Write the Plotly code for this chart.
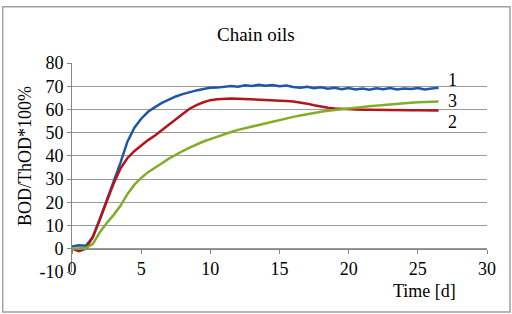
import plotly.graph_objects as go

# Time axis (days)
time_d = [0, 0.5, 1, 1.5, 2, 2.5, 3, 3.5, 4, 4.5, 5, 5.5, 6, 6.5, 7, 7.5, 8, 8.5, 9, 9.5,
          10, 10.5, 11, 11.5, 12, 12.5, 13, 13.5, 14, 14.5, 15, 15.5, 16, 16.5, 17, 17.5,
          18, 18.5, 19, 19.5, 20, 20.5, 21, 21.5, 22, 22.5, 23, 23.5, 24, 24.5, 25, 25.5,
          26, 26.5]

series1 = [1, 1.5, 1.3, 5, 12.5, 20.5, 28.5, 37, 46, 52, 56, 59, 61, 62.8, 64.2, 65.6, 66.6,
           67.5, 68.2, 68.8, 69.3, 69.4, 69.8, 70.1, 69.8, 70.4, 70.1, 70.6, 70.2, 70.5, 70.0,
           70.3, 69.7, 69.4, 69.8, 69.1, 69.5, 68.9, 69.3, 68.7, 69.2, 68.6, 69.0, 68.5, 69.1,
           68.7, 69.2, 68.6, 69.0, 68.8, 69.2, 68.6, 69.0, 69.3]

series2 = [0, -1, 0, 5, 12.5, 20, 28, 34.5, 39, 42, 44.5, 46.8, 48.8, 51.2, 53.3, 55.6, 58,
           60.3, 61.9, 63.1, 64.0, 64.4, 64.6, 64.7, 64.6, 64.5, 64.4, 64.2, 64.1, 63.9, 63.8,
           63.6, 63.4, 63.1, 62.5, 61.8, 61.2, 60.7, 60.4, 60.2, 60.1, 60.0, 59.9, 59.9, 59.8,
           59.8, 59.7, 59.7, 59.6, 59.6, 59.6, 59.5, 59.5, 59.5]

series3 = [0, 0, 0.3, 2, 7, 11, 14.5, 18.5, 23.5, 27.5, 30.5, 33, 34.8, 36.8, 38.8, 40.6, 42.1,
           43.6, 45, 46.2, 47.2, 48.3, 49.3, 50.3, 51.2, 51.9, 52.6, 53.5, 54.3, 55, 55.5, 56.2,
           56.8, 57.4, 58, 58.5, 59, 59.4, 59.8, 60.2, 60.5, 60.8, 61.1, 61.4, 61.7, 62, 62.3,
           62.5, 62.7, 62.9, 63.1, 63.2, 63.3, 63.4]

series_labels = ["1", "2", "3"]
label_y = [72.7, 54.5, 63.6]
colors = ["#1f57a4", "#b4151c", "#82ad2a"]

x_ticks = [0, 5, 10, 15, 20, 25, 30]
y_ticks = [-10, 0, 10, 20, 30, 40, 50, 60, 70, 80]
y_tick_text = ["-10", "0", "10", "20", "30", "40", "50", "60", "70", "80"]
y_grid = [0, 10, 20, 30, 40, 50, 60, 70, 80]

title_text = "Chain oils"
y_title = "BOD/ThOD*100%"
x_title = "Time [d]"

FONT = "Liberation Serif"

fig = go.Figure()
for ys, c in zip([series1, series2, series3], colors):
    fig.add_trace(go.Scatter(x=time_d, y=ys, mode="lines",
                             line=dict(color=c, width=2.5), showlegend=False,
                             hoverinfo="skip"))

fig.update_layout(
    width=512, height=314,
    margin=dict(l=72, r=25, t=63, b=42),
    paper_bgcolor="white", plot_bgcolor="white",
    font=dict(family=FONT, size=18, color="black"),
    showlegend=False,
    xaxis=dict(range=[0, 30], tickvals=x_ticks, ticks="outside", ticklen=4,
               tickcolor="#868686", showline=True, linecolor="#868686", linewidth=1,
               showgrid=False, zeroline=False, anchor="free", position=1/9,
               tickfont=dict(family=FONT, size=18), fixedrange=True),
    yaxis=dict(range=[-10, 80], tickvals=y_ticks, ticktext=y_tick_text,
               ticks="outside", ticklen=4,
               tickcolor="#868686", showline=True, linecolor="#868686", linewidth=1,
               showgrid=False, zeroline=False,
               minor=dict(tickvals=y_grid, showgrid=True, gridcolor="#9a9a9a",
                          gridwidth=1, ticks=""),
               tickfont=dict(family=FONT, size=18), fixedrange=True),
)

# Title
fig.add_annotation(text=title_text, xref="paper", yref="paper", x=(256 - 72) / 415,
                   y=(272 - 34) / 209, showarrow=False, xanchor="center", yanchor="middle",
                   font=dict(family=FONT, size=19, color="black"))
# Y axis title
fig.add_annotation(text=y_title, xref="paper", yref="paper", x=(25 - 72) / 415,
                   y=(272 - 156) / 209, showarrow=False, textangle=-90,
                   xanchor="center", yanchor="middle",
                   font=dict(family=FONT, size=18, color="black"))
# X axis title
fig.add_annotation(text=x_title, xref="paper", yref="paper", x=(424 - 72) / 415,
                   y=(272 - 291) / 209, showarrow=False, xanchor="center", yanchor="middle",
                   font=dict(family=FONT, size=18, color="black"))

# Series labels
for t, yv in zip(series_labels, label_y):
    fig.add_annotation(text=t, x=27.5, y=yv, xref="x", yref="y", showarrow=False,
                       xanchor="center", yanchor="middle",
                       font=dict(family=FONT, size=18, color="black"))

# Outer border of chart area
fig.add_shape(type="rect", xref="paper", yref="paper",
              x0=(2.7 - 72) / 415, x1=(510 - 72) / 415,
              y0=(272 - 312) / 209, y1=(272 - 6.7) / 209,
              line=dict(color="#a0a0a0", width=1.5), fillcolor="rgba(0,0,0,0)", layer="below")

fig.write_html("out.html", config={"displayModeBar": False},
               post_script="document.body.style.margin='0';document.body.style.padding='0';")
